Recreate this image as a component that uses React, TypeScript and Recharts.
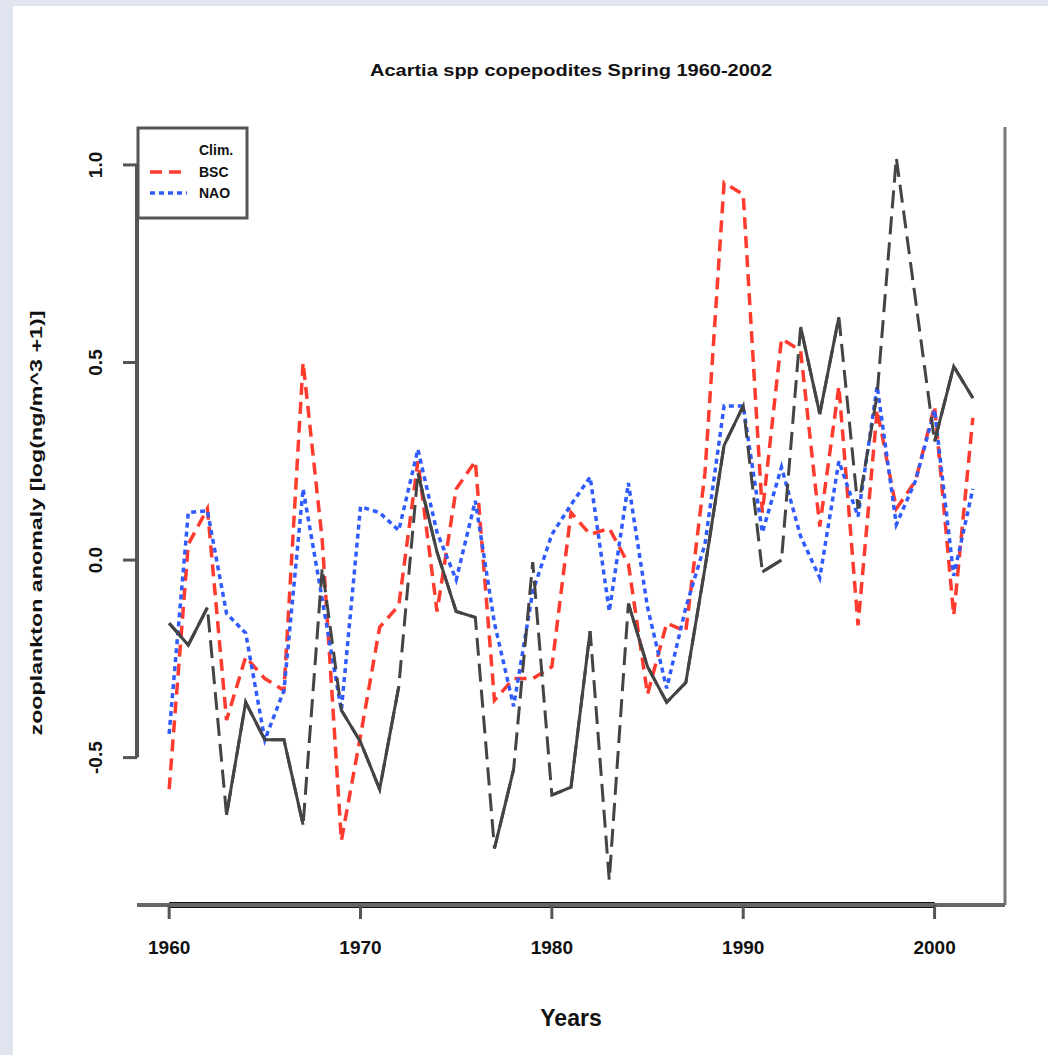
import { LineChart, Line, XAxis, YAxis, ReferenceLine } from "recharts";

// Survey years and the three anomaly series (log(n/m^3 + 1))
const years = [
  1960, 1961, 1962, 1963, 1964, 1965, 1966, 1967, 1968, 1969,
  1970, 1971, 1972, 1973, 1974, 1975, 1976, 1977, 1978, 1979,
  1980, 1981, 1982, 1983, 1984, 1985, 1986, 1987, 1988, 1989,
  1990, 1991, 1992, 1993, 1994, 1995, 1996, 1997, 1998, 1999,
  2000, 2001, 2002,
];

const climValues = [
  -0.16, -0.215, -0.12, -0.645, -0.36, -0.455, -0.455, -0.67, -0.02, -0.38,
  -0.46, -0.58, -0.32, 0.22, 0.02, -0.13, -0.145, -0.73, -0.53, -0.005,
  -0.595, -0.575, -0.18, -0.81, -0.11, -0.27, -0.36, -0.31, -0.02, 0.29,
  0.39, -0.03, 0.0, 0.59, 0.37, 0.615, 0.13, 0.42, 1.018, 0.66,
  0.3, 0.49, 0.41,
];

const bscValues = [
  -0.58, 0.04, 0.13, -0.405, -0.245, -0.3, -0.33, 0.5, 0.05, -0.71,
  -0.445, -0.17, -0.115, 0.25, -0.13, 0.18, 0.25, -0.355, -0.3, -0.3,
  -0.27, 0.12, 0.065, 0.08, -0.01, -0.34, -0.16, -0.18, 0.22, 0.955,
  0.925, 0.12, 0.56, 0.53, 0.085, 0.44, -0.165, 0.38, 0.13, 0.2,
  0.39, -0.14, 0.36,
];

const naoValues = [
  -0.44, 0.12, 0.125, -0.135, -0.185, -0.455, -0.33, 0.18, -0.1, -0.38,
  0.135, 0.12, 0.075, 0.28, 0.07, -0.05, 0.15, -0.16, -0.37, -0.08,
  0.065, 0.14, 0.21, -0.13, 0.195, -0.12, -0.325, -0.12, 0.04, 0.39,
  0.39, 0.07, 0.235, 0.06, -0.045, 0.25, 0.11, 0.44, 0.09, 0.2,
  0.38, -0.04, 0.18,
];

// stretches of the Clim. series drawn solid; the rest shows the dashed trace
const climSolidRuns: [number, number][] = [
  [1960, 1962], [1963, 1967], [1969, 1972], [1973, 1976], [1977, 1978],
  [1980, 1982], [1984, 1990], [1991, 1992], [1993, 1995], [2000, 2002],
];

const xTicks = [1960, 1970, 1980, 1990, 2000];
const yTicks = [-0.5, 0, 0.5, 1.0];

const X_DOMAIN: [number, number] = [1958.32, 2003.68];
const Y_DOMAIN: [number, number] = [-0.873, 1.096];

const FONT = "'Liberation Sans', Arial, Helvetica, sans-serif";
const RED = "#ff3b2e";
const BLUE = "#2f5bff";
const DARK = "#444";

// alternate runs between two series so neighbouring runs never join up
const rows = years.map((year, i) => {
  const run = climSolidRuns.findIndex(([a, b]) => year >= a && year <= b);
  return {
    year,
    clim: climValues[i],
    bsc: bscValues[i],
    nao: naoValues[i],
    climA: run >= 0 && run % 2 === 0 ? climValues[i] : null,
    climB: run >= 0 && run % 2 === 1 ? climValues[i] : null,
  };
});

const XTick = (props: any) => {
  const { x, y, payload } = props;
  return (
    <text x={x} y={y + 27} textAnchor="middle" fontFamily={FONT} fontWeight="bold" fontSize={19} fill="#111">
      {payload.value}
    </text>
  );
};

const YTick = (props: any) => {
  const { x, y, payload } = props;
  return (
    <text
      transform={`translate(${x - 13},${y}) rotate(-90)`}
      textAnchor="middle"
      fontFamily={FONT}
      fontWeight="bold"
      fontSize={19}
      fill="#111"
    >
      {Number(payload.value).toFixed(1)}
    </text>
  );
};

const W = 1035;
const H = 1049;

export default function App() {
  return (
    <div style={{ position: "absolute", left: 0, top: 0, width: 1048, height: 1055, background: "#e0e4ee" }}>
      <div style={{ position: "absolute", left: 13, top: 6, width: W, height: H, background: "#fff" }}>
        <LineChart width={W} height={H} data={rows} margin={{ top: 121, right: 43, bottom: 90, left: 64 }}>
          <XAxis
            dataKey="year"
            type="number"
            domain={X_DOMAIN}
            ticks={xTicks}
            height={60}
            axisLine={{ stroke: "#666", strokeWidth: 4 }}
            tickLine={{ stroke: "#555", strokeWidth: 3 }}
            tickSize={14}
            tickMargin={8}
            tick={<XTick />}
          />
          <YAxis
            type="number"
            domain={Y_DOMAIN}
            ticks={yTicks}
            width={60}
            axisLine={false}
            tickLine={{ stroke: "#555", strokeWidth: 3 }}
            tickSize={14}
            tickMargin={8}
            tick={<YTick />}
          />
          <ReferenceLine
            segment={[{ x: X_DOMAIN[0], y: -0.5 }, { x: X_DOMAIN[0], y: 1.0 }]}
            stroke="#555"
            strokeWidth={4}
          />
          <ReferenceLine x={X_DOMAIN[1]} stroke="#777" strokeWidth={3} />
          <ReferenceLine
            segment={[{ x: 1960, y: Y_DOMAIN[0] }, { x: 2000, y: Y_DOMAIN[0] }]}
            stroke="#111"
            strokeWidth={6}
          />
          <Line
            type="linear"
            dataKey="bsc"
            stroke={RED}
            strokeWidth={3.5}
            strokeDasharray="12 7"
            dot={false}
            isAnimationActive={false}
          />
          <Line
            type="linear"
            dataKey="nao"
            stroke={BLUE}
            strokeWidth={3.5}
            strokeDasharray="5 4"
            dot={false}
            isAnimationActive={false}
          />
          <Line
            type="linear"
            dataKey="clim"
            stroke={DARK}
            strokeWidth={3}
            strokeDasharray="18 8"
            dot={false}
            isAnimationActive={false}
          />
          <Line
            type="linear"
            dataKey="climA"
            stroke={DARK}
            strokeWidth={3}
            dot={false}
            connectNulls={false}
            isAnimationActive={false}
          />
          <Line
            type="linear"
            dataKey="climB"
            stroke={DARK}
            strokeWidth={3}
            dot={false}
            connectNulls={false}
            isAnimationActive={false}
          />
        </LineChart>
        <svg width={W} height={H} style={{ position: "absolute", left: 0, top: 0, pointerEvents: "none" }}>
          <text x={558} y={70} textAnchor="middle" fontFamily={FONT} fontWeight="bold" fontSize={16} textLength={402} lengthAdjust="spacingAndGlyphs" fill="#111">
            Acartia spp copepodites Spring 1960-2002
          </text>
          <text x={558} y={1020} textAnchor="middle" fontFamily={FONT} fontWeight="bold" fontSize={23} fill="#111">
            Years
          </text>
          <text
            transform="translate(29,517) rotate(-90)"
            textAnchor="middle"
            fontFamily={FONT}
            fontWeight="bold"
            fontSize={17}
            textLength={425}
            lengthAdjust="spacingAndGlyphs"
            fill="#111"
          >
            zooplankton anomaly [log(ng/m^3 +1)]
          </text>
          <g>
            <rect x={125} y={122} width={109} height={90} fill="#fff" stroke="#555" strokeWidth={3} />
            <line x1={137} y1={166} x2={171} y2={166} stroke={RED} strokeWidth={3.5} strokeDasharray="12 7" />
            <line x1={137} y1={187} x2={174} y2={187} stroke={BLUE} strokeWidth={3.5} strokeDasharray="5 4" />
            <text x={186} y={149} fontFamily={FONT} fontWeight="bold" fontSize={14} fill="#111">Clim.</text>
            <text x={186} y={171} fontFamily={FONT} fontWeight="bold" fontSize={14} fill="#111">BSC</text>
            <text x={186} y={192} fontFamily={FONT} fontWeight="bold" fontSize={14} fill="#111">NAO</text>
          </g>
        </svg>
      </div>
    </div>
  );
}
